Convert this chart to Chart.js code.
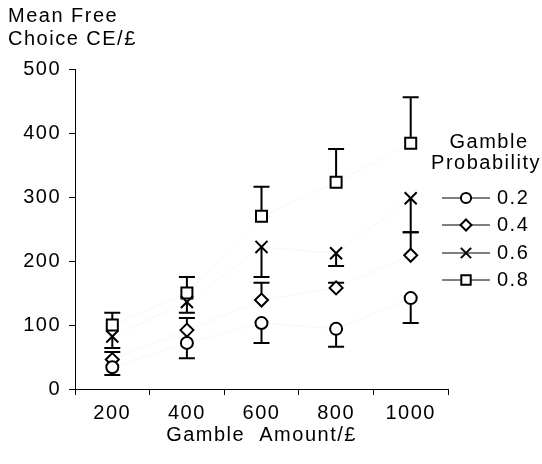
<!DOCTYPE html>
<html>
<head>
  <title>Mean Free Choice CE</title>
  <script src="https://cdn.jsdelivr.net/npm/chart.js"></script>
  <style>
    body { margin: 0; background: #fff; }
    #wrap { width: 542px; height: 464px; }
  </style>
</head>
<body>
<div id="wrap"><canvas id="chart"></canvas></div>
<script>
  var amounts = ['200', '400', '600', '800', '1000'];
  var probLabels = ['0.2', '0.4', '0.6', '0.8'];

  // mean CE per gamble probability
  var ce02 = [34, 72, 103, 94, 142];
  var ce04 = [46, 92, 139, 158, 209];
  var ce06 = [82, 136, 222, 212, 298];
  var ce08 = [100, 150, 270, 323, 384];

  // end of the (one sided) error bar
  var err02 = [22, 48, 72, 66, 103];
  var err04 = [58, 111, 166, 166, 245];
  var err06 = [64, 119, 175, 192, 245];
  var err08 = [119, 175, 316, 375, 456];

  var FONT = '"Liberation Sans", Arial, sans-serif';
  var SPACING = '1.5px';

  var styles = ['circle', 'rectRot', 'crossRot', 'rect'];
  var radii = [6, 6.5, 8.5, 7.8];

  function spacing(chart) {
    chart.ctx.letterSpacing = SPACING;
  }

  function marker(ctx, style, r, x, y) {
    ctx.save();
    ctx.lineWidth = 2;
    ctx.strokeStyle = '#000';
    ctx.fillStyle = '#fff';
    ctx.beginPath();
    if (style === 'circle') {
      ctx.arc(x, y, r, 0, Math.PI * 2);
      ctx.fill(); ctx.stroke();
    } else if (style === 'rectRot') {
      ctx.moveTo(x, y - r); ctx.lineTo(x + r, y); ctx.lineTo(x, y + r); ctx.lineTo(x - r, y);
      ctx.closePath(); ctx.fill(); ctx.stroke();
    } else if (style === 'crossRot') {
      var d = r * Math.SQRT1_2;
      ctx.moveTo(x - d, y - d); ctx.lineTo(x + d, y + d);
      ctx.moveTo(x + d, y - d); ctx.lineTo(x - d, y + d);
      ctx.stroke();
    } else {
      var s = r * Math.SQRT1_2;
      ctx.rect(x - s, y - s, 2 * s, 2 * s);
      ctx.fill(); ctx.stroke();
    }
    ctx.restore();
  }

  var extras = {
    id: 'extras',
    beforeLayout: spacing,
    beforeDraw: spacing,
    beforeDatasetsDraw: function(chart) {
      var ctx = chart.ctx;
      var y = chart.scales.y;
      var errs = [err02, err04, err06, err08];
      ctx.save();
      ctx.strokeStyle = '#000';
      ctx.lineWidth = 2;
      chart.data.datasets.forEach(function(ds, i) {
        chart.getDatasetMeta(i).data.forEach(function(pt, j) {
          var ye = y.getPixelForValue(errs[i][j]);
          ctx.beginPath();
          ctx.moveTo(pt.x, pt.y);
          ctx.lineTo(pt.x, ye);
          ctx.moveTo(pt.x - 8, ye);
          ctx.lineTo(pt.x + 8, ye);
          ctx.stroke();
        });
      });
      ctx.restore();
    },
    afterDraw: function(chart) {
      var ctx = chart.ctx;
      ctx.save();
      ctx.letterSpacing = SPACING;
      ctx.font = '20px ' + FONT;
      ctx.fillStyle = '#000';
      ctx.textBaseline = 'middle';
      ctx.textAlign = 'left';
      ctx.fillText('Mean Free', 8, 16);
      ctx.fillText('Choice CE/£', 8, 39);

      ctx.textAlign = 'center';
      ctx.fillText('Gamble', 489, 142);
      ctx.fillText('Probability', 486, 163);

      var rows = [198, 225, 253, 280];
      ctx.textAlign = 'left';
      for (var i = 0; i < probLabels.length; i++) {
        ctx.strokeStyle = '#000';
        ctx.lineWidth = 1;
        ctx.beginPath();
        ctx.moveTo(442, rows[i]);
        ctx.lineTo(490, rows[i]);
        ctx.stroke();
        marker(ctx, styles[i], radii[i] * 0.85, 466, rows[i]);
        ctx.fillText(probLabels[i], 497, rows[i]);
      }
      ctx.restore();
    }
  };

  Chart.defaults.font.family = FONT;
  Chart.defaults.font.size = 20;
  Chart.defaults.color = '#000';

  var series = [ce02, ce04, ce06, ce08];
  var datasets = series.map(function(values, i) {
    return {
      label: probLabels[i],
      data: values,
      showLine: true,
      borderColor: 'rgba(0,0,0,0.035)',
      borderWidth: 1,
      fill: false,
      tension: 0,
      pointStyle: styles[i],
      pointRadius: radii[i],
      pointHoverRadius: radii[i],
      pointBorderWidth: 2,
      pointHoverBorderWidth: 2,
      pointBorderColor: '#000',
      pointBackgroundColor: '#fff'
    };
  });

  new Chart(document.getElementById('chart'), {
    type: 'line',
    data: { labels: amounts, datasets: datasets },
    options: {
      responsive: true,
      maintainAspectRatio: false,
      animation: false,
      devicePixelRatio: 1,
      events: [],
      layout: { padding: { top: 69, right: 94, left: 0, bottom: 0 } },
      plugins: { legend: { display: false }, tooltip: { enabled: false } },
      scales: {
        x: {
          type: 'category',
          offset: true,
          grid: { offset: true, drawOnChartArea: false, tickLength: 6, color: '#000' },
          border: { color: '#000', width: 1 },
          ticks: { padding: 6, maxRotation: 0, color: '#000' },
          title: { display: true, text: 'Gamble  Amount/£', color: '#000', padding: { top: 0, bottom: 17 } },
          afterFit: function(s) { s.height = 75; }
        },
        y: {
          min: 0,
          max: 500,
          ticks: { stepSize: 100, padding: 8, color: '#000' },
          grid: { drawOnChartArea: false, tickLength: 6, color: '#000' },
          border: { color: '#000', width: 1 },
          afterFit: function(s) { s.width = 75; }
        }
      }
    },
    plugins: [extras]
  });
</script>
</body>
</html>
